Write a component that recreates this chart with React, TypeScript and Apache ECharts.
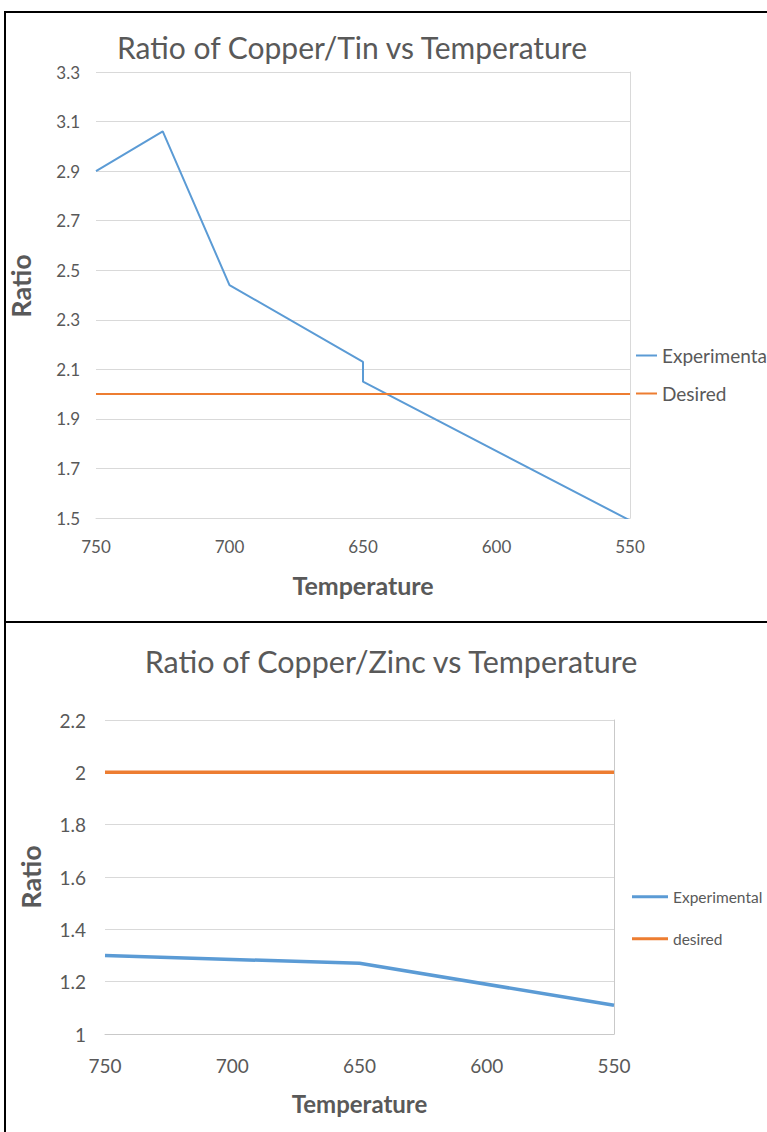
import React, { useEffect, useRef } from "react";
import * as echarts from "echarts";

// ---- Data ----
const tinTemps = [750, 725, 700, 650, 650, 550];
const tinRatios = [2.9, 3.06, 2.44, 2.13, 2.05, 1.49];
const tinDesiredTemps = [750, 550];
const tinDesired = [2, 2];

const zincTemps = [750, 650, 550];
const zincRatios = [1.3, 1.27, 1.11];
const zincDesiredTemps = [750, 550];
const zincDesired = [2, 2];

const tempTicks = { min: 550, max: 750, interval: 50 };
const tinRatioTicks = { min: 1.5, max: 3.3, interval: 0.2 };
const zincRatioTicks = { min: 1, max: 2.2, interval: 0.2 };

// ---- Styles ----
const FONT = "Lato, 'Open Sans', sans-serif";
const GREY = "#595959";
const BLUE = "#5B9BD5";
const ORANGE = "#ED7D31";
const GRIDC = "#d9d9d9";

const zip = (xs: number[], ys: number[]) => xs.map((x, i) => [x, ys[i]]);

type Cfg = {
  title: string;
  titleX: number;
  titleTop: number;
  titleSize: number;
  grid: { left: number; top: number; width: number; height: number };
  yTicks: { min: number; max: number; interval: number };
  labelSize: number;
  xLabelMargin: number;
  yLabelMargin: number;
  xNameSize: number;
  yNameSize: number;
  yNameShift: number;
  xNameGap: number;
  yNameGap: number;
  lineWidth: number;
  axisColor: string;
  legendLeft: number;
  legendTops: number[];
  legendIconW: number;
  legendIconH: number;
  legendSize: number;
  expX: number[];
  expY: number[];
  desX: number[];
  desY: number[];
  desName: string;
};

function buildOption(c: Cfg) {
  const labelStyle = { color: GREY, fontFamily: FONT, fontSize: c.labelSize };
  const legendBase = (name: string, top: number) => ({
    data: [name],
    left: c.legendLeft,
    top,
    padding: 0,
    orient: "vertical",
    icon: "rect",
    itemWidth: c.legendIconW,
    itemHeight: c.legendIconH,
    selectedMode: false,
    textStyle: {
      color: GREY,
      fontFamily: FONT,
      fontSize: c.legendSize,
      lineHeight: c.legendSize + 2,
    },
  });
  return {
    animation: false,
    textStyle: { fontFamily: FONT },
    title: {
      text: c.title,
      left: c.titleX,
      top: c.titleTop,
      textAlign: "center",
      padding: 0,
      textStyle: {
        color: GREY,
        fontFamily: FONT,
        fontSize: c.titleSize,
        fontWeight: "normal",
        lineHeight: c.titleSize + 6,
      },
    },
    grid: { ...c.grid, containLabel: false, outerBoundsMode: "none" },
    xAxis: {
      type: "value",
      ...tempTicks,
      inverse: true,
      axisLine: { show: true, lineStyle: { color: c.axisColor, width: 1 } },
      axisTick: { show: false },
      splitLine: { show: false },
      axisLabel: { ...labelStyle, margin: c.xLabelMargin },
      name: "Temperature",
      nameLocation: "middle",
      nameGap: c.xNameGap,
      nameTextStyle: {
        color: GREY,
        fontFamily: FONT,
        fontSize: c.xNameSize,
        fontWeight: "bold",
      },
    },
    yAxis: [
      {
        type: "value",
        ...c.yTicks,
        axisLine: { show: false },
        axisTick: { show: false },
        splitLine: { show: true, lineStyle: { color: GRIDC, width: 1 } },
        axisLabel: { ...labelStyle, margin: c.yLabelMargin },
        name: "Ratio",
        nameLocation: "middle",
        nameGap: c.yNameGap,
        nameTextStyle: {
          color: GREY,
          fontFamily: FONT,
          fontSize: c.yNameSize,
          fontWeight: "bold",
          padding: [0, 0, 0, c.yNameShift],
        },
      },
      {
        type: "value",
        position: "right",
        ...c.yTicks,
        axisLine: { show: true, lineStyle: { color: c.axisColor, width: 1 } },
        axisTick: { show: false },
        axisLabel: { show: false },
        splitLine: { show: false },
      },
    ],
    legend: [
      legendBase("Experimental", c.legendTops[0]),
      legendBase(c.desName, c.legendTops[1]),
    ],
    series: [
      {
        name: "Experimental",
        type: "line",
        data: zip(c.expX, c.expY),
        showSymbol: false,
        symbol: "none",
        clip: true,
        itemStyle: { color: BLUE },
        lineStyle: { color: BLUE, width: c.lineWidth },
      },
      {
        name: c.desName,
        type: "line",
        data: zip(c.desX, c.desY),
        showSymbol: false,
        symbol: "none",
        clip: true,
        itemStyle: { color: ORANGE },
        lineStyle: { color: ORANGE, width: c.lineWidth },
      },
    ],
  };
}

const tinCfg: Cfg = {
  title: "Ratio of Copper/Tin vs Temperature",
  titleX: 352,
  titleTop: 29,
  titleSize: 30,
  grid: { left: 96, top: 72, width: 534, height: 446 },
  yTicks: tinRatioTicks,
  labelSize: 17,
  xLabelMargin: 20,
  yLabelMargin: 16,
  xNameSize: 25,
  yNameSize: 27,
  yNameShift: 18,
  xNameGap: 54,
  yNameGap: 62,
  lineWidth: 2,
  axisColor: GRIDC,
  legendLeft: 636,
  legendTops: [345, 383],
  legendIconW: 21,
  legendIconH: 2,
  legendSize: 19,
  expX: tinTemps,
  expY: tinRatios,
  desX: tinDesiredTemps,
  desY: tinDesired,
  desName: "Desired",
};

const zincCfg: Cfg = {
  title: "Ratio of Copper/Zinc vs Temperature",
  titleX: 391,
  titleTop: 21,
  titleSize: 30.5,
  grid: { left: 105, top: 98, width: 509, height: 314 },
  yTicks: zincRatioTicks,
  labelSize: 19,
  xLabelMargin: 22,
  yLabelMargin: 19,
  xNameSize: 24,
  yNameSize: 27,
  yNameShift: 0,
  xNameGap: 57,
  yNameGap: 61,
  lineWidth: 3.5,
  axisColor: "#c9c9c9",
  legendLeft: 632,
  legendTops: [266, 308],
  legendIconW: 36,
  legendIconH: 3,
  legendSize: 15.5,
  expX: zincTemps,
  expY: zincRatios,
  desX: zincDesiredTemps,
  desY: zincDesired,
  desName: "desired",
};

function Chart({ cfg, top, height }: { cfg: Cfg; top: number; height: number }) {
  const ref = useRef<HTMLDivElement>(null);
  useEffect(() => {
    if (!ref.current) return;
    const chart = echarts.init(ref.current, undefined, { renderer: "svg" });
    chart.setOption(buildOption(cfg) as any);
    return () => chart.dispose();
  }, [cfg]);
  return (
    <div
      ref={ref}
      style={{ position: "absolute", left: 0, top, width: 767, height }}
    />
  );
}

export default function App() {
  useEffect(() => {
    document.body.style.margin = "0";
    document.body.style.overflow = "hidden";
  }, []);
  const line = (s: React.CSSProperties) => (
    <div style={{ position: "absolute", background: "#000", ...s }} />
  );
  return (
    <div
      style={{
        position: "absolute",
        left: 0,
        top: 0,
        width: 767,
        height: 1132,
        overflow: "hidden",
        background: "#fff",
      }}
    >
      <Chart cfg={tinCfg} top={0} height={622} />
      <Chart cfg={zincCfg} top={622} height={510} />
      {line({ left: 4, top: 11, width: 763, height: 2 })}
      {line({ left: 4, top: 11, width: 2, height: 1121 })}
      {line({ left: 4, top: 621, width: 763, height: 2 })}
    </div>
  );
}
